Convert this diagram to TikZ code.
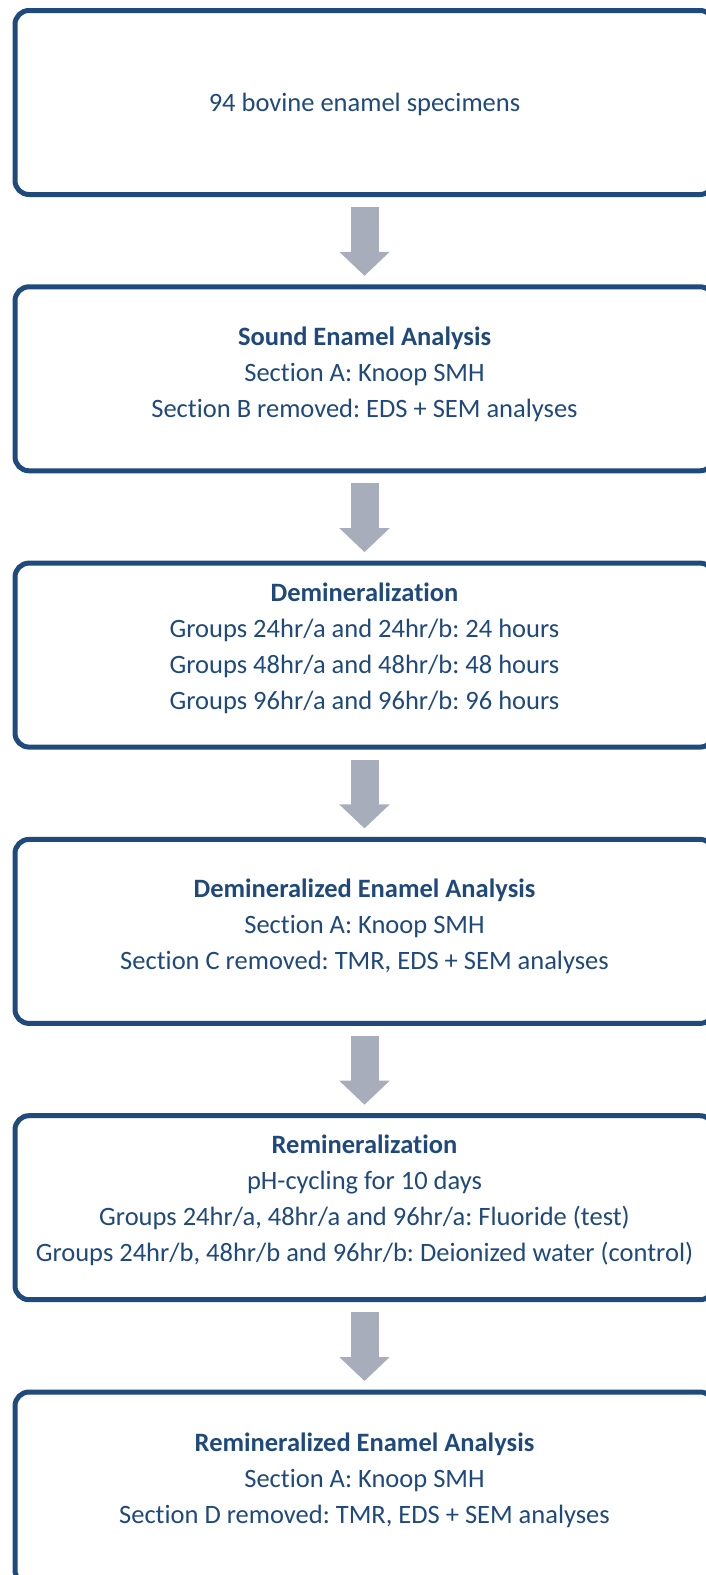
\documentclass[tikz,border=0pt]{standalone}
\usepackage{fontspec}
\setmainfont[Ligatures={NoCommon}]{Carlito}
\usetikzlibrary{arrows.meta}
\definecolor{navy}{HTML}{1F4A7C}
\definecolor{txtblue}{HTML}{1F497D}
\definecolor{arrowgray}{HTML}{A8ADBC}
\begin{document}
\frenchspacing
\begin{tikzpicture}[x=1pt,y=-1pt,
  box/.style={draw=navy, line width=5pt, rounded corners=14pt, minimum width=699pt, minimum height=184pt, inner sep=0pt, outer sep=0pt},
  txt/.style={text=txtblue, align=center, font=\fontsize{26.5}{36}\selectfont\frenchspacing, inner sep=0pt},
  flow/.style={draw=arrowgray, line width=28pt, -{Triangle[length=24pt,width=49pt]}, shorten <=12.5pt, shorten >=11pt}]
\useasboundingbox (0,0) rectangle (706,1575);
\node[box] (b1) at (364.5,102.5) {};
\node[box] (b2) at (364.5,378.8) {};
\node[box] (b3) at (364.5,655.1) {};
\node[box] (b4) at (364.5,931.4) {};
\node[box] (b5) at (364.5,1207.7) {};
\node[box, minimum height=192pt] (b6) at (364.5,1488) {};
\node[txt] (t1) at (364.5,104) {94 bovine enamel specimens};
\node[txt] (t2) at (364.5,374) {\textbf{Sound Enamel Analysis}\\Section A: Knoop SMH\\Section B removed: EDS + SEM analyses};
\node[txt] (t3) at (364.5,648) {\textbf{Demineralization}\\Groups 24hr/a and 24hr/b: 24 hours\\Groups 48hr/a and 48hr/b: 48 hours\\Groups 96hr/a and 96hr/b: 96 hours};
\node[txt] (t4) at (364.5,926) {\textbf{Demineralized Enamel Analysis}\\Section A: Knoop SMH\\Section C removed: TMR, EDS + SEM analyses};
\node[txt] (t5) at (364.5,1200) {\textbf{Remineralization}\\pH-cycling for 10 days\\Groups 24hr/a, 48hr/a and 96hr/a: Fluoride (test)\\Groups 24hr/b, 48hr/b and 96hr/b: Deionized water (control)};
\node[txt] (t6) at (364.5,1480) {\textbf{Remineralized Enamel Analysis}\\Section A: Knoop SMH\\Section D removed: TMR, EDS + SEM analyses};
\draw[flow] (b1.south) -- (b2.north);
\draw[flow] (b2.south) -- (b3.north);
\draw[flow] (b3.south) -- (b4.north);
\draw[flow] (b4.south) -- (b5.north);
\draw[flow] (b5.south) -- (b6.north);
\end{tikzpicture}
\end{document}
